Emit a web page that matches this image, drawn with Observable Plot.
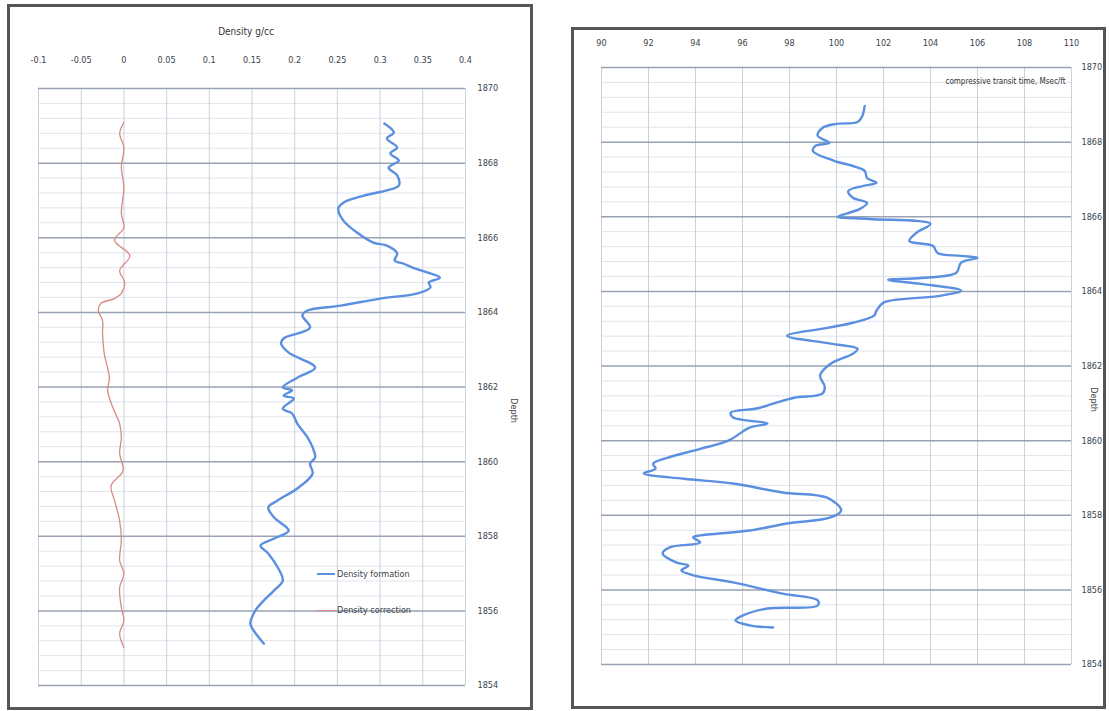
<!DOCTYPE html>
<html>
<head>
<meta charset="utf-8">
<script src="https://cdn.jsdelivr.net/npm/d3@7"></script>
<script src="https://cdn.jsdelivr.net/npm/@observablehq/plot@0.6"></script>
<style>
  body { margin: 0; background: #fff; width: 1109px; height: 711px; position: relative; overflow: hidden;
         font-family: "Liberation Sans Narrow", "DejaVu Sans Condensed", "Roboto", sans-serif; color: #3a3f4a; }
  .panel { position: absolute; border: 3px solid #555; box-sizing: border-box; background: #fff; }
  .chart { position: absolute; }
  .legend { position: absolute; font-size: 9px; display: flex; align-items: center; white-space: nowrap; }
  .legend span.sw { display: inline-block; width: 18px; margin-right: 2px; }
</style>
</head>
<body>
<div class="panel" style="left:7px;top:4px;width:526px;height:706px"></div>
<div class="panel" style="left:571px;top:27px;width:535px;height:682px"></div>
<div id="left" class="chart" style="left:10px;top:7px"></div>
<div id="right" class="chart" style="left:574px;top:30px"></div>
<div class="legend" style="left:317px;top:569px"><span class="sw" style="border-top:2.5px solid #5b8fe0"></span>Density formation</div>
<div class="legend" style="left:317px;top:605px"><span class="sw" style="border-top:1.5px solid #d98b83"></span>Density correction</div>
<script>
// ---- axis ticks ----
const depthTicks = [1854, 1856, 1858, 1860, 1862, 1864, 1866, 1868, 1870];
const densTicks = [-0.1, -0.05, 0, 0.05, 0.1, 0.15, 0.2, 0.25, 0.3, 0.35, 0.4];
const densTickLabels = ["-0.1", "-0.05", "0", "0.05", "0.1", "0.15", "0.2", "0.25", "0.3", "0.35", "0.4"];
const dtTicks = [90, 92, 94, 96, 98, 100, 102, 104, 106, 108, 110];
const densTitle = "Density g/cc";
const dtTitle = "compressive transit time, Msec/ft";
const depthLabel = "Depth";

// ---- Density formation (g/cc) ----
const formationDepth = [1869.06, 1868.82, 1868.66, 1868.42, 1868.26, 1868.07, 1867.88, 1867.67, 1867.40, 1867.27,
  1867.13, 1866.94, 1866.78, 1866.46, 1866.14, 1865.87, 1865.79, 1865.58, 1865.39, 1865.31,
  1865.20, 1865.07, 1864.93, 1864.80, 1864.67, 1864.51, 1864.37, 1864.18, 1864.05, 1863.92,
  1863.59, 1863.30, 1863.17, 1862.92, 1862.52, 1862.25, 1861.99, 1861.91, 1861.77, 1861.69,
  1861.42, 1861.29, 1861.02, 1860.65, 1860.38, 1860.11, 1859.95, 1859.68, 1859.28, 1858.96,
  1858.77, 1858.50, 1858.15, 1857.94, 1857.75, 1857.54, 1857.13, 1856.81, 1856.55, 1856.28,
  1856.01, 1855.66, 1855.47, 1855.12];
const formationValue = [0.305, 0.316, 0.308, 0.320, 0.312, 0.322, 0.310, 0.320, 0.322, 0.308,
  0.281, 0.257, 0.251, 0.257, 0.273, 0.292, 0.308, 0.320, 0.317, 0.327,
  0.338, 0.355, 0.370, 0.357, 0.359, 0.344, 0.300, 0.254, 0.215, 0.209,
  0.218, 0.187, 0.184, 0.193, 0.224, 0.203, 0.186, 0.197, 0.187, 0.199,
  0.186, 0.197, 0.203, 0.215, 0.221, 0.224, 0.218, 0.221, 0.203, 0.180,
  0.169, 0.176, 0.193, 0.176, 0.160, 0.169, 0.181, 0.186, 0.176, 0.164,
  0.154, 0.148, 0.152, 0.164];

// ---- Density correction (g/cc) ----
const correctionDepth = [1869.09, 1868.79, 1868.42, 1867.88, 1867.35, 1866.65, 1866.27, 1865.93, 1865.52, 1865.12,
  1864.80, 1864.51, 1864.37, 1864.24, 1864.05, 1863.78, 1863.43, 1862.90, 1862.25, 1861.91,
  1861.45, 1861.02, 1860.65, 1860.22, 1859.76, 1859.36, 1858.96, 1858.42, 1857.89, 1857.35,
  1857.00, 1856.62, 1856.09, 1855.74, 1855.39, 1855.02];
const correctionValue = [0.000, -0.005, 0.000, -0.003, 0.000, -0.003, 0.000, -0.011, 0.007, -0.005,
  0.001, -0.003, -0.011, -0.027, -0.030, -0.025, -0.025, -0.023, -0.017, -0.019,
  -0.013, -0.005, -0.003, -0.005, -0.001, -0.015, -0.011, -0.005, -0.003, -0.005,
  0.000, -0.005, -0.003, 0.000, -0.005, 0.000];

// ---- Compressive transit time (usec/ft) ----
const dtDepth = [1868.97, 1868.70, 1868.54, 1868.49, 1868.38, 1868.17, 1867.98, 1867.90, 1867.76, 1867.50,
  1867.36, 1867.23, 1867.04, 1866.91, 1866.83, 1866.69, 1866.51, 1866.37, 1866.21, 1866.10,
  1866.00, 1865.94, 1865.81, 1865.57, 1865.35, 1865.22, 1865.03, 1864.95, 1864.90, 1864.77,
  1864.50, 1864.36, 1864.31, 1864.20, 1864.02, 1863.88, 1863.70, 1863.48, 1863.35, 1863.16,
  1863.02, 1862.81, 1862.60, 1862.46, 1862.33, 1862.06, 1861.74, 1861.45, 1861.26, 1861.15,
  1860.99, 1860.86, 1860.75, 1860.62, 1860.46, 1860.35, 1860.00, 1859.78, 1859.54, 1859.38,
  1859.25, 1859.12, 1858.98, 1858.85, 1858.61, 1858.47, 1858.13, 1857.94, 1857.78, 1857.59,
  1857.46, 1857.41, 1857.27, 1857.14, 1856.98, 1856.73, 1856.65, 1856.52, 1856.39, 1856.20,
  1855.90, 1855.72, 1855.58, 1855.50, 1855.31, 1855.18, 1855.05, 1854.99];
const dtValue = [101.2, 101.1, 100.9, 100.0, 99.4, 99.2, 99.7, 99.1, 99.0, 99.9,
  100.7, 101.2, 101.3, 101.7, 101.15, 100.5, 100.7, 101.3, 101.0, 100.5,
  100.05, 101.4, 104.0, 103.4, 103.1, 104.1, 104.3, 105.3, 106.0, 105.3,
  105.1, 103.6, 102.2, 103.6, 105.3, 104.4, 102.0, 101.7, 101.6, 100.7,
  99.6, 97.9, 99.75, 100.9, 100.7, 99.75, 99.3, 99.5, 99.4, 98.2,
  97.3, 96.6, 95.5, 95.6, 97.06, 96.3, 95.4, 94.2, 92.8, 92.2,
  92.3, 91.8, 93.5, 95.6, 97.7, 99.6, 100.2, 99.75, 97.9, 96.3,
  94.2, 93.9, 94.2, 92.9, 92.6, 93.2, 93.7, 93.4, 93.9, 95.6,
  97.7, 99.2, 99.2, 97.06, 96.0, 95.7, 96.3, 97.3];

const formation = formationDepth.map((d, i) => ({depth: d, value: formationValue[i]}));
const correction = correctionDepth.map((d, i) => ({depth: d, value: correctionValue[i]}));
const transit = dtDepth.map((d, i) => ({depth: d, value: dtValue[i]}));
const minorDepths = d3.range(41).filter(k => k % 5 !== 0).map(k => 1854 + 0.4 * k);
const densLabelMap = new Map(densTicks.map((t, i) => [t, densTickLabels[i]]));

const font = '"Liberation Sans Narrow", "DejaVu Sans Condensed", "Roboto", sans-serif';
const baseStyle = {fontFamily: font, fontSize: "9px", color: "#3a3f4a", background: "transparent", overflow: "visible"};

const leftChart = Plot.plot({
  width: 520, height: 699,
  marginLeft: 28, marginRight: 65, marginTop: 81, marginBottom: 21,
  x: {domain: [-0.1, 0.4]},
  y: {domain: [1854, 1870]},
  style: baseStyle,
  marks: [
    Plot.ruleY(minorDepths, {stroke: "#dfe5ec", strokeWidth: 1}),
    Plot.ruleX(densTicks, {stroke: "#cad2dc", strokeWidth: 1}),
    Plot.ruleY(depthTicks, {stroke: "#98a2b3", strokeWidth: 1.5}),
    Plot.line(correction, {x: "value", y: "depth", stroke: "#d98b83", strokeWidth: 1.3, curve: "catmull-rom"}),
    Plot.line(formation, {x: "value", y: "depth", stroke: "#5b8fe0", strokeWidth: 2.4, curve: "catmull-rom"}),
    Plot.axisX({anchor: "top", ticks: densTicks, tickSize: 0, tickPadding: 26, tickFormat: d => densLabelMap.get(d), label: null}),
    Plot.axisY({anchor: "right", ticks: depthTicks, tickSize: 0, tickPadding: 12, tickFormat: d => String(d), label: null}),
    Plot.text([densTitle], {frameAnchor: "top", dy: -61, dx: -6, fontSize: 10, fill: "#333"}),
    Plot.text([depthLabel], {frameAnchor: "right", rotate: 90, dx: 48, dy: 36, fontSize: 9, fill: "#444"})
  ]
});
document.getElementById("left").appendChild(leftChart);

const rightChart = Plot.plot({
  width: 529, height: 675,
  marginLeft: 27, marginRight: 32, marginTop: 37, marginBottom: 41,
  x: {domain: [90, 110]},
  y: {domain: [1854, 1870]},
  style: baseStyle,
  marks: [
    Plot.ruleY(minorDepths, {stroke: "#dfe5ec", strokeWidth: 1}),
    Plot.ruleX(dtTicks, {stroke: "#cad2dc", strokeWidth: 1}),
    Plot.ruleY(depthTicks, {stroke: "#98a2b3", strokeWidth: 1.5}),
    Plot.line(transit, {x: "value", y: "depth", stroke: "#5b8fe0", strokeWidth: 2.4, curve: "catmull-rom"}),
    Plot.axisX({anchor: "top", ticks: dtTicks, tickSize: 0, tickPadding: 22, tickFormat: d => String(d), label: null}),
    Plot.axisY({anchor: "right", ticks: depthTicks, tickSize: 0, tickPadding: 10, tickFormat: d => String(d), label: null}),
    Plot.text([dtTitle], {frameAnchor: "top-right", textAnchor: "end", dx: -6, dy: 11, fontSize: 8, fill: "#333"}),
    Plot.text([depthLabel], {frameAnchor: "right", rotate: 90, dx: 22, dy: 46, fontSize: 9, fill: "#444"})
  ]
});
document.getElementById("right").appendChild(rightChart);
</script>
</body>
</html>
